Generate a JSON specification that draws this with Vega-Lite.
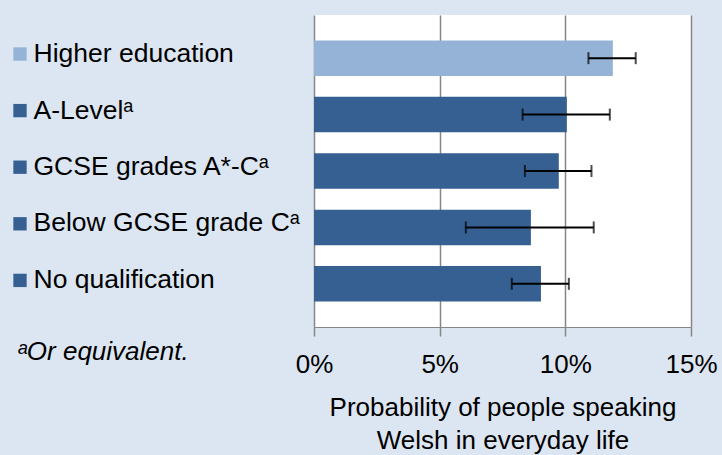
{
  "$schema": "https://vega.github.io/schema/vega-lite/v6.json",
  "width": 377,
  "height": 312,
  "autosize": {"type": "none"},
  "padding": {"left": 314, "top": 15, "right": 31, "bottom": 128},
  "background": "#dce6f2",
  "config": {
    "font": "Liberation Sans",
    "view": {"fill": "white", "stroke": null}
  },
  "data": {
    "values": [
      {"q": "Higher education", "p": 0.1189, "lo": 0.1092, "hi": 0.1280},
      {"q": "A-Levelᵃ", "p": 0.1006, "lo": 0.0830, "hi": 0.1177},
      {"q": "GCSE grades A*-Cᵃ", "p": 0.0974, "lo": 0.0839, "hi": 0.1104},
      {"q": "Below GCSE grade Cᵃ", "p": 0.0863, "lo": 0.0604, "hi": 0.1113},
      {"q": "No qualification", "p": 0.0903, "lo": 0.0787, "hi": 0.1014}
    ]
  },
  "encoding": {
    "y": {
      "field": "q",
      "type": "nominal",
      "sort": null,
      "scale": {"paddingInner": 0.37, "paddingOuter": 0.45},
      "axis": {
        "orient": "left",
        "domain": false,
        "ticks": false,
        "tickSize": 0,
        "labelAlign": "left",
        "labelBaseline": "middle",
        "labelPadding": 281,
        "labelOffset": -4,
        "labelFontSize": 26.5,
        "labelColor": "black",
        "labelLimit": 400,
        "title": "ᵃOr equivalent.",
        "titleAngle": 0,
        "titleX": -297,
        "titleY": 344.3,
        "titleAlign": "left",
        "titleBaseline": "alphabetic",
        "titleFontSize": 26,
        "titleFontStyle": "italic",
        "titleFontWeight": "normal",
        "titleColor": "black"
      }
    }
  },
  "layer": [
    {
      "mark": {"type": "bar"},
      "encoding": {
        "x": {
          "field": "p",
          "type": "quantitative",
          "title": ["Probability of people speaking", "Welsh in everyday life"],
          "scale": {"domain": [0, 0.15], "nice": false},
          "axis": {
            "values": [0, 0.05, 0.1, 0.15],
            "format": "%",
            "grid": true,
            "gridColor": "#868686",
            "gridWidth": 1.5,
            "gridOpacity": 1,
            "domain": true,
            "domainColor": "#868686",
            "domainWidth": 1,
            "ticks": true,
            "tickColor": "#868686",
            "tickWidth": 1.5,
            "tickSize": 9,
            "labelFontSize": 26,
            "labelColor": "black",
            "labelBaseline": "alphabetic",
            "labelPadding": 36,
            "labelFlush": false,
            "titleFontSize": 26,
            "titleFontWeight": "normal",
            "titleColor": "black",
            "titleLineHeight": 33.3,
            "titleBaseline": "alphabetic",
            "titleAlign": "center",
            "titleX": 188.5,
            "titleY": 88
          }
        },
        "color": {
          "field": "q",
          "type": "nominal",
          "sort": null,
          "scale": {
            "domain": ["Higher education", "A-Levelᵃ", "GCSE grades A*-Cᵃ", "Below GCSE grade Cᵃ", "No qualification"],
            "range": ["#95b3d7", "#366092", "#366092", "#366092", "#366092"]
          },
          "legend": {
            "orient": "none",
            "legendX": -301,
            "legendY": 32,
            "title": null,
            "symbolType": "square",
            "symbolSize": 178,
            "symbolStrokeWidth": 0,
            "symbolOffset": 0,
            "labelExpr": "''",
            "labelFontSize": 1,
            "labelOffset": 0,
            "rowPadding": 42.6,
            "padding": 0
          }
        }
      }
    },
    {
      "mark": {
        "type": "errorbar",
        "color": "black",
        "thickness": 2,
        "ticks": {"size": 12, "thickness": 2, "color": "black"}
      },
      "encoding": {
        "x": {"field": "lo", "type": "quantitative", "title": ["Probability of people speaking", "Welsh in everyday life"]},
        "x2": {"field": "hi"}
      }
    }
  ]
}
